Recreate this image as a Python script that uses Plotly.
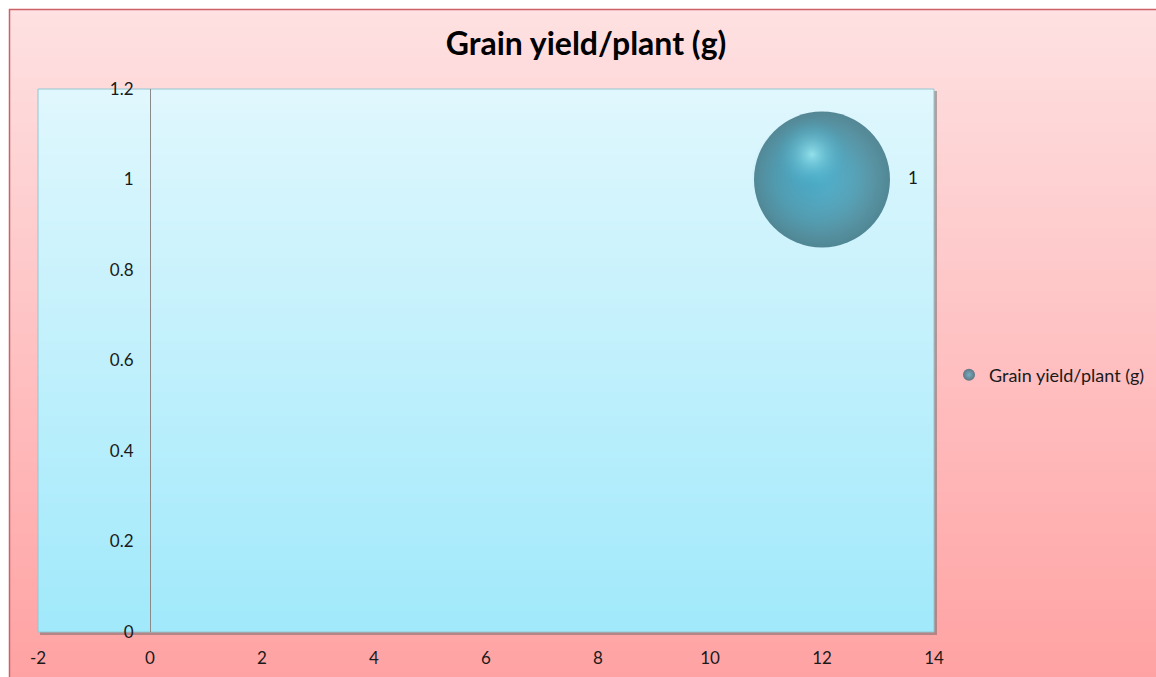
import plotly.graph_objects as go

# ---- data ----
series_name = "Grain yield/plant (g)"
x_values = [12]
y_values = [1]
bubble_sizes = [1]
data_labels = ["1"]
x_ticks = [-2, 0, 2, 4, 6, 8, 10, 12, 14]
x_tick_text = ["-2", "0", "2", "4", "6", "8", "10", "12", "14"]
y_ticks = [0, 0.2, 0.4, 0.6, 0.8, 1, 1.2]
y_tick_text = ["0", "0.2", "0.4", "0.6", "0.8", "1", "1.2"]

# ---- layout geometry (pixels) ----
W, H = 1156, 677
PL, PR, PT, PB = 38, 934, 89, 632        # plot area edges
X_RANGE = [-2, 14]
Y_RANGE = [0, 1.2]
BUBBLE_PX = 136                            # diameter of a size-1 bubble
FONT = "Lato, sans-serif"
TEXT_COLOR = "#1a1a1a"


def px_x(p):
    return (p - PL) / (PR - PL)


def px_y(p):
    return (PB - p) / (PB - PT)


def lerp(c0, c1, t):
    return "rgb(%d,%d,%d)" % tuple(round(a + (b - a) * t) for a, b in zip(c0, c1))


shapes = []

# chart-area background: vertical pink gradient
top_pink, bot_pink = (254, 225, 226), (255, 162, 163)
step = 3
for y0 in range(9, H + step, step):
    t = (y0 - 9) / (H - 9)
    shapes.append(dict(type="rect", xref="paper", yref="paper", layer="below",
                       x0=px_x(9), x1=px_x(W + 5), y0=px_y(y0), y1=px_y(y0 + step + 1),
                       fillcolor=lerp(top_pink, bot_pink, t), line_width=0))
# chart-area border
shapes.append(dict(type="rect", xref="paper", yref="paper", layer="below",
                   x0=px_x(9.5), x1=px_x(W + 5), y0=px_y(9.5), y1=px_y(H + 5),
                   fillcolor="rgba(0,0,0,0)", line=dict(color="#CD6163", width=1.5)))

# plot-area drop shadow
shapes.append(dict(type="rect", xref="paper", yref="paper", layer="below",
                   x0=px_x(PL + 2), x1=px_x(PR + 3), y0=px_y(PT + 2), y1=px_y(PB + 3),
                   fillcolor="rgba(90,90,90,0.45)", line_width=0))

# plot-area background: vertical cyan gradient
top_cyan, bot_cyan = (224, 247, 253), (160, 233, 251)
for y0 in range(PT, PB, step):
    y1 = min(y0 + step + 1, PB)
    t = (y0 - PT) / (PB - PT)
    shapes.append(dict(type="rect", xref="paper", yref="paper", layer="below",
                       x0=0, x1=1, y0=px_y(y0), y1=px_y(y1),
                       fillcolor=lerp(top_cyan, bot_cyan, t), line_width=0))
# plot-area border
shapes.append(dict(type="rect", xref="paper", yref="paper", layer="below",
                   x0=0, x1=1, y0=0, y1=1,
                   fillcolor="rgba(0,0,0,0)", line=dict(color="#94C6D0", width=1)))

fig = go.Figure()

# pixel -> data unit scale, used to nudge the shading layers of each bubble
ux = (PR - PL) / (X_RANGE[1] - X_RANGE[0])
uy = (PB - PT) / (Y_RANGE[1] - Y_RANGE[0])

# main bubble: radial shading, darker towards the rim
fig.add_trace(go.Scatter(
    x=x_values, y=y_values, name=series_name,
    mode="markers+text", text=data_labels, textposition="middle right",
    textfont=dict(family=FONT, size=17, color=TEXT_COLOR),
    marker=dict(size=bubble_sizes, sizemode="diameter", sizeref=1 / BUBBLE_PX,
                color="#1A5868",
                gradient=dict(type="radial", color="#3CA4C2"),
                line=dict(width=0)),
    hoverinfo="x+y",
))

# body tone, left of centre so the right rim stays darkest
fig.add_trace(go.Scatter(
    x=[v - 10 / ux for v in x_values], y=[v + 3 / uy for v in y_values],
    mode="markers", showlegend=False, hoverinfo="skip",
    marker=dict(size=[s * 122 for s in bubble_sizes], sizemode="diameter", sizeref=1,
                color="rgba(58,160,190,0)",
                gradient=dict(type="radial", color="rgba(58,160,190,1)"),
                line=dict(width=0)),
))

# specular highlight, up-left of centre
fig.add_trace(go.Scatter(
    x=[v - 10 / ux for v in x_values], y=[v + 25 / uy for v in y_values],
    mode="markers", showlegend=False, hoverinfo="skip",
    marker=dict(size=[s * 72 for s in bubble_sizes], sizemode="diameter", sizeref=1,
                color="rgba(63,170,200,0)",
                gradient=dict(type="radial", color="rgba(175,250,255,1)"),
                line=dict(width=0)),
))

fig.update_layout(
    width=W, height=H,
    margin=dict(l=PL, r=W - PR, t=PT, b=H - PB, pad=0, autoexpand=False),
    paper_bgcolor="white", plot_bgcolor="rgba(0,0,0,0)",
    shapes=shapes,
    font=dict(family=FONT, size=17, color=TEXT_COLOR),
    title=dict(text="<b>" + series_name + "</b>", xref="container", yref="container",
               x=586 / W, y=1 - 44 / H, xanchor="center", yanchor="middle",
               font=dict(family=FONT, size=32, color="black")),
    showlegend=True,
    legend=dict(x=px_x(949), y=px_y(375), xanchor="left", yanchor="middle",
                bgcolor="rgba(0,0,0,0)", itemsizing="constant",
                font=dict(family=FONT, size=18, color=TEXT_COLOR),
                itemwidth=30),
    xaxis=dict(range=X_RANGE, tickvals=x_ticks, ticktext=x_tick_text,
               showgrid=False, zeroline=False,
               showline=False, ticks="", ticklabelstandoff=14,
               tickfont=dict(size=17, color=TEXT_COLOR)),
    yaxis=dict(range=Y_RANGE, tickvals=y_ticks, ticktext=y_tick_text,
               anchor="free", position=px_x(150),
               showgrid=False, zeroline=False, showline=True,
               linecolor="#8A8A8A", linewidth=1, ticks="", ticklabelstandoff=13,
               tickfont=dict(size=17, color=TEXT_COLOR)),
)

fig.write_html("out.html")
